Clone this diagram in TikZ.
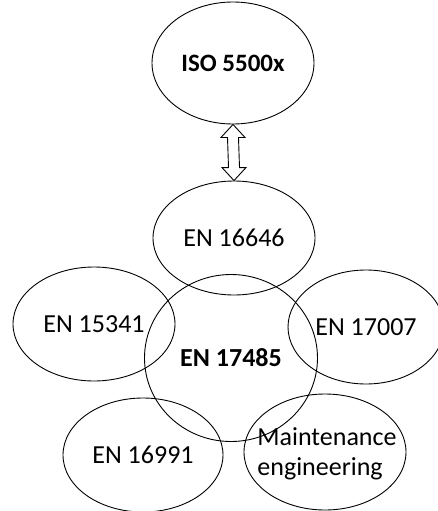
\documentclass[tikz,border=0pt]{standalone}
\usepackage{fontspec}
\setmainfont{Carlito}
\usetikzlibrary{positioning, shapes.geometric, calc}

\begin{document}
\begin{tikzpicture}[x=1pt, y=-1pt,
    std/.style={ellipse, draw=black, line width=0.9pt, inner sep=0pt,
      font=\fontsize{26}{30}\selectfont},
    dblarrow/.style={draw=black, line width=0.9pt}]
  % page frame, sized like the reference
  \useasboundingbox (0,0) rectangle (438,511);
  % top standard
  \node[std, minimum width=162pt, minimum height=122pt, font=\fontsize{25}{30}\selectfont\bfseries]
    (iso) at (233,63) {ISO 5500x};
  % standards around the central one
  \node[std, minimum width=162pt, minimum height=114pt] (en16646) at (234,238) {EN 16646};
  \node[std, minimum width=162pt, minimum height=114pt] (en15341) at (94,324) {EN 15341};
  \node[std, minimum width=156pt, minimum height=114pt] (en17007) at (366,327) {EN 17007};
  \node[std, minimum width=160pt, minimum height=114pt] (en16991) at (143,455) {EN 16991};
  \node[std, minimum width=162pt, minimum height=116pt] (maint) at (325,452) {};
  % text is wider than the ellipse, so it sits on its own
  \node[font=\fontsize{26}{30}\selectfont, align=left, inner sep=0pt]
    (mainttext) at ($(maint.center)+(2,2)$) {Maintenance\\engineering};
  % central standard
  \node[std, minimum width=173pt, minimum height=167pt, font=\fontsize{26}{30}\selectfont\bfseries]
    (en17485) at (231,358) {EN 17485};
  % hollow double arrow between ISO and EN 16646
  \coordinate (tipA) at (iso.south);
  \coordinate (tipB) at (en16646.north);
  \draw[dblarrow] (tipA) -- ($(tipA)+(12,13)$) -- ($(tipA)+(5.5,13)$)
    -- ($(tipB)+(5.5,-13)$) -- ($(tipB)+(12,-13)$) -- (tipB)
    -- ($(tipB)+(-12,-13)$) -- ($(tipB)+(-5.5,-13)$)
    -- ($(tipA)+(-5.5,13)$) -- ($(tipA)+(-12,13)$) -- cycle;
\end{tikzpicture}
\end{document}
